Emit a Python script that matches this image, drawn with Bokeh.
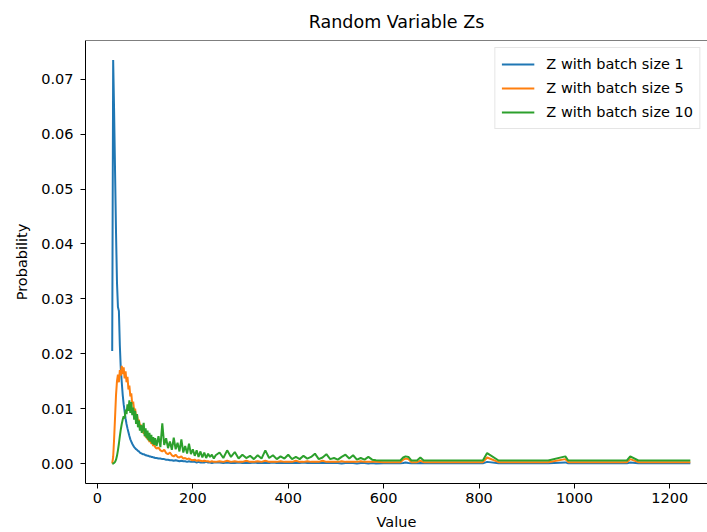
from bokeh.plotting import figure
from bokeh.models import Range1d, FixedTicker, NumeralTickFormatter, Span
from bokeh.embed import file_html
from bokeh.resources import INLINE

# ---------------- data ----------------
X_DENSE = [31, 33, 35, 37, 39, 41, 43, 45, 47, 49, 51, 53, 55, 57, 59, 61, 63, 65, 67, 69,
           71, 73, 75, 77, 79, 81, 83, 85, 87, 89, 91, 93, 95, 97, 99, 101, 103, 105, 107, 109,
           111, 113, 115, 117, 119, 121]
X_MID = [124, 128, 132, 136, 140, 144, 148, 152, 156, 160, 164, 168, 172, 176, 180, 184,
         188, 192, 196, 200, 204, 208, 212, 216, 220, 224, 228, 232, 236, 240, 244, 248]
X_WIDE = [256, 264, 272, 280, 288, 296, 304, 312, 320, 328, 336, 344, 352, 360, 368, 376,
          384, 392, 400, 408, 416, 424, 432, 440, 448, 456, 464, 472, 480, 488, 496, 504,
          512, 520, 528, 536, 544, 552, 560, 568, 576, 584]
X_TAIL = [600, 620, 635, 641, 646, 652, 658, 670, 677, 684, 700, 750, 808, 817, 841, 900,
          945, 981, 987, 1050, 1110, 1117, 1134, 1200, 1243]

BLUE_DENSE = [0.0205, 0.0735, 0.0640, 0.0530, 0.0420, 0.0330, 0.0285, 0.0278, 0.0215, 0.0172,
              0.0148, 0.0125, 0.0108, 0.0095, 0.0082, 0.0072, 0.0064, 0.0057, 0.0050, 0.0044,
              0.0040, 0.0036, 0.0033, 0.0030, 0.0028, 0.0026, 0.0025, 0.0023, 0.0022, 0.0020,
              0.0019, 0.0018, 0.0017, 0.0017, 0.0016, 0.0015, 0.0015, 0.0014, 0.0014, 0.0013,
              0.0013, 0.0012, 0.0012, 0.0011, 0.0011, 0.0010]
BLUE_MID = [0.0010, 0.0009, 0.0009, 0.0008, 0.0008, 0.0007, 0.0007, 0.0006, 0.0006, 0.0005,
            0.0006, 0.0005, 0.0004, 0.0005, 0.0004, 0.0004, 0.0003, 0.0004, 0.0003, 0.0003,
            0.0003, 0.0002, 0.0003, 0.0002, 0.0002, 0.0002, 0.0003, 0.0002, 0.0002, 0.0001,
            0.0002, 0.0002]
BLUE_WIDE = [0.0002, 0.0001, 0.0002, 0.0001, 0.0001, 0.0002, 0.0001, 0.0001, 0.0001, 0.0002,
             0.0001, 0.0001, 0.0001, 0.0001, 0.0002, 0.0001, 0.0001, 0.0001, 0.0001, 0.0001,
             0.0001, 0.0001, 0.0002, 0.0001, 0.0001, 0.0001, 0.0001, 0.0001, 0.0001, 0.0001,
             0.0001, 0.0001, 0.0000, 0.0001, 0.0001, 0.0001, 0.0000, 0.0001, 0.0001, 0.0000,
             0.0001, 0.0000]
BLUE_TAIL = [0.00003, 0.00003, 0.00003, 0.0001, 0.0002, 0.0001, 0.00003, 0.00003, 0.0001,
             0.00003, 0.00003, 0.00003, 0.00003, 0.0003, 0.00003, 0.00003, 0.00003, 0.0002,
             0.00003, 0.00003, 0.00003, 0.0002, 0.00003, 0.00003, 0.00003]

ORANGE_DENSE = [0.0000, 0.0012, 0.0045, 0.0085, 0.0125, 0.0150, 0.0162, 0.0148, 0.0170, 0.0160,
                0.0178, 0.0163, 0.0175, 0.0155, 0.0168, 0.0148, 0.0158, 0.0135, 0.0142, 0.0122,
                0.0128, 0.0108, 0.0113, 0.0095, 0.0100, 0.0085, 0.0090, 0.0076, 0.0080, 0.0068,
                0.0071, 0.0060, 0.0064, 0.0054, 0.0057, 0.0048, 0.0052, 0.0044, 0.0046, 0.0039,
                0.0042, 0.0036, 0.0038, 0.0032, 0.0035, 0.0030]
ORANGE_MID = [0.0027, 0.0029, 0.0024, 0.0022, 0.0025, 0.0019, 0.0017, 0.0020, 0.0015, 0.0013,
              0.0016, 0.0012, 0.0011, 0.0013, 0.0009, 0.0010, 0.0008, 0.0009, 0.0007, 0.0006,
              0.0007, 0.0005, 0.0006, 0.0005, 0.0004, 0.0005, 0.0004, 0.0004, 0.0003, 0.0004,
              0.0003, 0.0003]
ORANGE_WIDE = [0.0004, 0.0003, 0.0005, 0.0003, 0.0004, 0.0003, 0.0003, 0.0005, 0.0003, 0.0003,
               0.0004, 0.0003, 0.0005, 0.0003, 0.0003, 0.0003, 0.0004, 0.0003, 0.0003, 0.0003,
               0.0005, 0.0003, 0.0003, 0.0004, 0.0003, 0.0003, 0.0003, 0.0005, 0.0003, 0.0003,
               0.0003, 0.0003, 0.0004, 0.0003, 0.0003, 0.0003, 0.0003, 0.0004, 0.0003, 0.0003,
               0.0003, 0.0003]
ORANGE_TAIL = [0.00025, 0.00025, 0.00025, 0.0007, 0.0009, 0.0008, 0.00025, 0.00025, 0.0005,
               0.00025, 0.00025, 0.00025, 0.00025, 0.0011, 0.00025, 0.00025, 0.00025, 0.0008,
               0.00025, 0.00025, 0.00025, 0.0008, 0.00025, 0.00025, 0.00025]

GREEN_DENSE = [0.0000, 0.0000, 0.0001, 0.0003, 0.0007, 0.0014, 0.0024, 0.0036, 0.0050, 0.0062,
               0.0072, 0.0080, 0.0086, 0.0082, 0.0098, 0.0090, 0.0108, 0.0096, 0.0115, 0.0092,
               0.0112, 0.0088, 0.0102, 0.0080, 0.0096, 0.0072, 0.0090, 0.0066, 0.0078, 0.0060,
               0.0070, 0.0056, 0.0066, 0.0074, 0.0050, 0.0064, 0.0046, 0.0060, 0.0042, 0.0056,
               0.0040, 0.0052, 0.0036, 0.0048, 0.0034, 0.0046]
GREEN_MID = [0.0032, 0.0050, 0.0030, 0.0073, 0.0034, 0.0046, 0.0028, 0.0040, 0.0025, 0.0047,
             0.0026, 0.0038, 0.0022, 0.0044, 0.0020, 0.0032, 0.0018, 0.0036, 0.0017, 0.0026,
             0.0014, 0.0024, 0.0012, 0.0022, 0.0011, 0.0020, 0.0010, 0.0018, 0.0012, 0.0016,
             0.0009, 0.0015]
GREEN_WIDE = [0.0020, 0.0010, 0.0024, 0.0012, 0.0021, 0.0009, 0.0016, 0.0010, 0.0014, 0.0008,
              0.0015, 0.0009, 0.0024, 0.0010, 0.0015, 0.0008, 0.0013, 0.0009, 0.0016, 0.0008,
              0.0012, 0.0008, 0.0014, 0.0009, 0.0012, 0.0018, 0.0008, 0.0011, 0.0017, 0.0008,
              0.0010, 0.0007, 0.0012, 0.0016, 0.0009, 0.0015, 0.0007, 0.0010, 0.0007, 0.0012,
              0.0007, 0.0006]
GREEN_TAIL = [0.00055, 0.00055, 0.00055, 0.0011, 0.0013, 0.0012, 0.00055, 0.00055, 0.0011,
              0.00055, 0.00055, 0.00055, 0.00055, 0.0019, 0.00055, 0.00055, 0.00055, 0.0013,
              0.00055, 0.00055, 0.00055, 0.0013, 0.00055, 0.00055, 0.00055]

X_VALUES = X_DENSE + X_MID + X_WIDE + X_TAIL
SERIES = [
    ("Z with batch size 1", BLUE_DENSE + BLUE_MID + BLUE_WIDE + BLUE_TAIL, "#1f77b4"),
    ("Z with batch size 5", ORANGE_DENSE + ORANGE_MID + ORANGE_WIDE + ORANGE_TAIL, "#ff7f0e"),
    ("Z with batch size 10", GREEN_DENSE + GREEN_MID + GREEN_WIDE + GREEN_TAIL, "#2ca02c"),
]

X_TICKS = [0, 200, 400, 600, 800, 1000, 1200]
Y_TICKS = [0.00, 0.01, 0.02, 0.03, 0.04, 0.05, 0.06, 0.07]

FONT = "DejaVu Sans"
Y_TOP = 0.07705

# ---------------- figure ----------------
p = figure(width=707, height=532, output_backend="svg", toolbar_location=None,
           x_range=Range1d(-25, 1279), y_range=Range1d(-0.00364, Y_TOP),
           min_border_left=85, min_border_right=0, min_border_top=40, min_border_bottom=49,
           title="Random Variable Zs")

for label, ys, color in SERIES:
    p.line(X_VALUES, ys, line_color=color, line_width=2, legend_label=label)

p.outline_line_color = None
p.add_layout(Span(location=Y_TOP, dimension="width", line_color="black", line_width=1))

p.xgrid.visible = False
p.ygrid.visible = False
p.background_fill_color = "white"
p.border_fill_color = "white"

p.title.text_font = FONT
p.title.text_font_size = "17.5px"
p.title.text_font_style = "normal"
p.title.align = "center"
p.title.text_color = "black"
p.title.standoff = 17

for ax in (p.xaxis[0], p.yaxis[0]):
    ax.axis_line_color = "black"
    ax.axis_line_width = 1
    ax.major_tick_line_color = "black"
    ax.major_tick_in = 0
    ax.major_tick_out = 5
    ax.minor_tick_line_color = None
    ax.major_label_text_font = FONT
    ax.major_label_text_font_size = "14.5px"
    ax.major_label_text_color = "black"
    ax.axis_label_text_font = FONT
    ax.axis_label_text_font_size = "14.5px"
    ax.axis_label_text_font_style = "normal"
    ax.axis_label_text_color = "black"

p.xaxis.major_label_standoff = 4
p.yaxis.major_label_standoff = 7
p.xaxis.ticker = FixedTicker(ticks=X_TICKS)
p.yaxis.ticker = FixedTicker(ticks=Y_TICKS)
p.yaxis.formatter = NumeralTickFormatter(format="0.00")
p.xaxis.axis_label = "Value"
p.yaxis.axis_label = "Probability"
p.xaxis.axis_label_standoff = 8
p.yaxis.axis_label_standoff = 8

lg = p.legend[0]
lg.location = "top_right"
lg.margin = 7
lg.padding = 6
lg.spacing = 4
lg.glyph_width = 33
lg.glyph_height = 20
lg.label_height = 20
lg.label_standoff = 12
lg.label_text_font = FONT
lg.label_text_font_size = "14.5px"
lg.label_text_color = "black"
lg.border_line_color = "#cccccc"
lg.border_line_width = 1
lg.background_fill_color = "white"
lg.background_fill_alpha = 0.8

open("out.html", "w").write(file_html(p, INLINE))
